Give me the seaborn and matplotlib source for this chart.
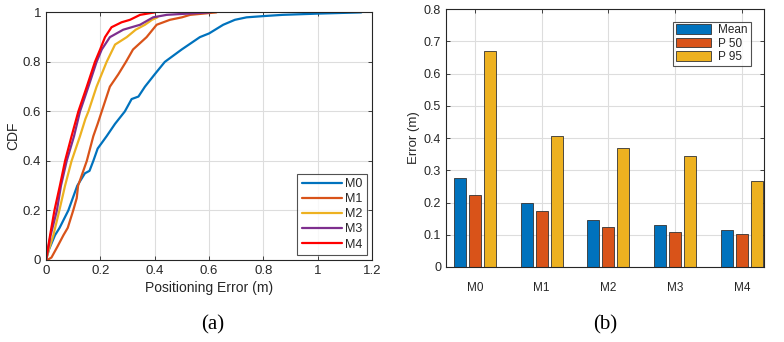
import matplotlib
matplotlib.use("Agg")
import matplotlib.pyplot as plt
from matplotlib.ticker import FormatStrFormatter, MultipleLocator
import pandas as pd
import seaborn as sns

methods = ["M0", "M1", "M2", "M3", "M4"]
line_colors = ["#0072BD", "#D95319", "#EDB120", "#7E2F8E", "#FF0000"]

# CDF curves: positioning error (m) vs cumulative fraction
m0_err = [0, 0.01, 0.033, 0.05, 0.082, 0.115, 0.143, 0.16, 0.174, 0.19, 0.223, 0.254,
          0.29, 0.315, 0.34, 0.364, 0.40, 0.437, 0.499, 0.566, 0.60, 0.652, 0.695,
          0.738, 0.80, 0.87, 1.0, 1.16]
m0_cdf = [0, 0.04, 0.10, 0.13, 0.20, 0.30, 0.35, 0.36, 0.40, 0.45, 0.50, 0.55,
          0.60, 0.65, 0.66, 0.70, 0.75, 0.80, 0.85, 0.90, 0.915, 0.95, 0.97,
          0.98, 0.985, 0.99, 0.995, 1.0]
m1_err = [0.005, 0.02, 0.03, 0.042, 0.064, 0.08, 0.10, 0.113, 0.118, 0.15, 0.174, 0.19,
          0.205, 0.235, 0.266, 0.294, 0.32, 0.37, 0.407, 0.456, 0.50, 0.53, 0.627]
m1_cdf = [0, 0.01, 0.03, 0.054, 0.10, 0.13, 0.20, 0.25, 0.30, 0.40, 0.50, 0.55,
          0.60, 0.70, 0.75, 0.80, 0.85, 0.90, 0.95, 0.97, 0.98, 0.99, 1.0]
m2_err = [0, 0.01, 0.027, 0.049, 0.07, 0.094, 0.125, 0.145, 0.156, 0.186, 0.223,
          0.254, 0.297, 0.33, 0.364, 0.39, 0.41]
m2_cdf = [0, 0.04, 0.10, 0.20, 0.30, 0.40, 0.50, 0.57, 0.60, 0.70, 0.80,
          0.87, 0.90, 0.93, 0.95, 0.97, 0.98]
m3_err = [0, 0.017, 0.04, 0.055, 0.076, 0.103, 0.125, 0.156, 0.186, 0.205, 0.235,
          0.284, 0.346, 0.394, 0.444, 0.52, 0.603]
m3_cdf = [0, 0.10, 0.20, 0.30, 0.40, 0.50, 0.60, 0.70, 0.80, 0.85, 0.90,
          0.93, 0.95, 0.98, 0.99, 0.995, 1.0]
m4_err = [0, 0.015, 0.031, 0.051, 0.07, 0.094, 0.119, 0.15, 0.18, 0.199, 0.217,
          0.241, 0.278, 0.309, 0.346, 0.40]
m4_cdf = [0, 0.10, 0.20, 0.30, 0.40, 0.50, 0.60, 0.70, 0.80, 0.85, 0.90,
          0.94, 0.96, 0.97, 0.99, 1.0]

# error statistics for panel (b)
stat_names = ["Mean", "P 50", "P 95"]
mean_err = [0.275, 0.197, 0.147, 0.129, 0.116]
p50_err = [0.222, 0.173, 0.125, 0.109, 0.102]
p95_err = [0.670, 0.405, 0.368, 0.344, 0.268]
bar_colors = ["#0072BD", "#D95319", "#EDB120"]

sns.set_theme(style="white")
plt.rcParams["font.family"] = ["Liberation Sans", "DejaVu Sans"]
text_col = "#262626"

curves = [(m0_err, m0_cdf), (m1_err, m1_cdf), (m2_err, m2_cdf),
          (m3_err, m3_cdf), (m4_err, m4_cdf)]
cdf_df = pd.concat([pd.DataFrame({"err": e, "cdf": c, "method": m})
                    for m, (e, c) in zip(methods, curves)], ignore_index=True)

bar_df = pd.DataFrame({
    "method": methods * 3,
    "stat": [s for s in stat_names for _ in methods],
    "value": mean_err + p50_err + p95_err,
})

fig = plt.figure(figsize=(7.84, 3.42), dpi=100)
ax1 = fig.add_axes([0.0587, 0.2398, 0.416, 0.724])
ax2 = fig.add_axes([0.569, 0.2193, 0.4056, 0.754])


def matlab_box(ax, size):
    for sp in ax.spines.values():
        sp.set_visible(True)
        sp.set_color(text_col)
        sp.set_linewidth(0.8)
    ax.tick_params(direction="in", length=3, width=0.6, colors=text_col,
                   labelcolor=text_col, labelsize=size, top=True, right=True,
                   bottom=True, left=True)
    ax.grid(True, color="#DDDDDD", linewidth=0.8)
    ax.set_axisbelow(True)


# (a) CDF
sns.lineplot(data=cdf_df, x="err", y="cdf", hue="method", palette=line_colors,
             sort=False, estimator=None, linewidth=1.6, ax=ax1)
ax1.set_xlim(0, 1.2)
ax1.set_ylim(0, 1)
ax1.xaxis.set_major_locator(MultipleLocator(0.2))
ax1.yaxis.set_major_locator(MultipleLocator(0.2))
ax1.xaxis.set_major_formatter(FormatStrFormatter("%g"))
ax1.yaxis.set_major_formatter(FormatStrFormatter("%g"))
ax1.set_xlabel("Positioning Error (m)", fontsize=10, color=text_col, labelpad=3)
ax1.set_ylabel("CDF", fontsize=10, color=text_col, labelpad=2)
matlab_box(ax1, 9.5)
leg1 = ax1.legend(loc="lower right", fontsize=9, handlelength=3.2, frameon=True,
                  fancybox=False, edgecolor=text_col, borderpad=0.35,
                  labelspacing=0.25, handletextpad=0.3, borderaxespad=0.4)
leg1.get_frame().set_linewidth(0.8)

# (b) bars
sns.barplot(data=bar_df, x="method", y="value", hue="stat", palette=bar_colors,
            width=0.675, gap=0.2, edgecolor="#333333", linewidth=0.6,
            saturation=1, ax=ax2)
ax2.set_xlim(-0.43, 4.33)
ax2.set_ylim(0, 0.8)
ax2.yaxis.set_major_locator(MultipleLocator(0.1))
ax2.yaxis.set_major_formatter(FormatStrFormatter("%g"))
ax2.set_xlabel("")
ax2.set_ylabel("Error (m)", fontsize=9.5, color=text_col, labelpad=3)
matlab_box(ax2, 9)
ax2.tick_params(axis="x", pad=11, labelsize=8.5)
leg2 = ax2.legend(loc="upper right", bbox_to_anchor=(0.958, 0.952), fontsize=8.5,
                  handlelength=3.0, handleheight=0.9, frameon=True, fancybox=False,
                  edgecolor=text_col, borderpad=0.25, labelspacing=0.1,
                  handletextpad=0.6, borderaxespad=0, title=None)
leg2.get_frame().set_linewidth(0.8)

fig.text(213 / 784, 1 - 325 / 342, "(a)", ha="center", va="center", fontsize=15,
         family="Liberation Serif", color="black")
fig.text(605 / 784, 1 - 325 / 342, "(b)", ha="center", va="center", fontsize=15,
         family="Liberation Serif", color="black")

fig.savefig("out.png", dpi=100)
